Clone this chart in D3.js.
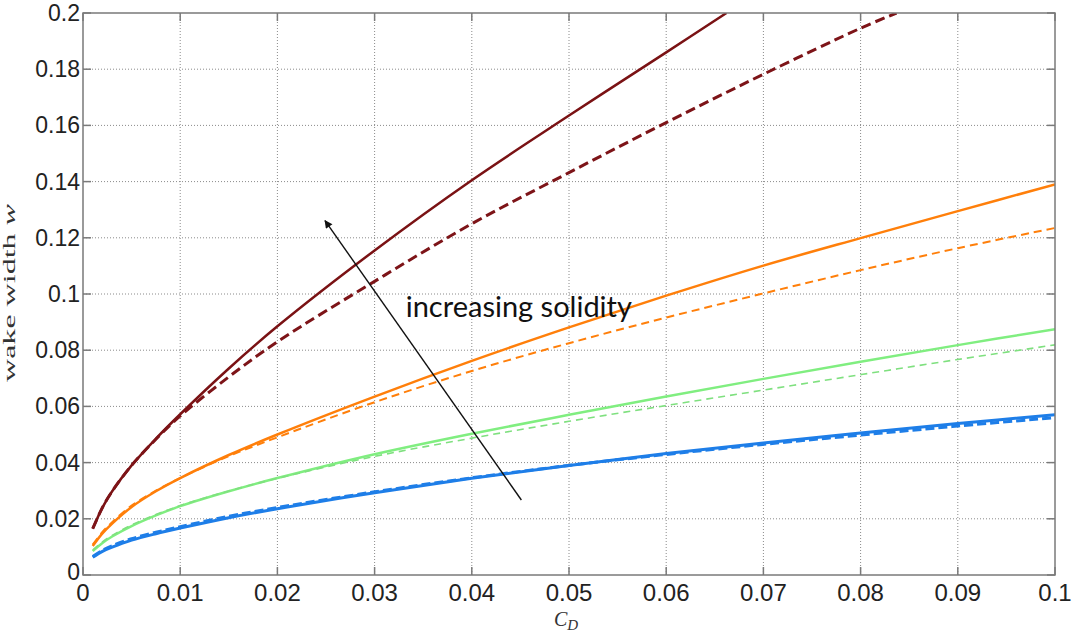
<!DOCTYPE html>
<html><head><meta charset="utf-8">
<script src="https://cdn.jsdelivr.net/npm/d3@7"></script>
<style>body{margin:0;background:#fff}svg{display:block}</style>
</head><body>
<svg id="c" width="1077" height="637"></svg>
<script>
// ---- data ----
const cdStd = [0.001,0.002,0.003,0.005,0.0075,0.01,0.015,0.02,0.03,0.04,0.05,0.06,0.07,0.08,0.09,0.1];
const cdRedSolid = [0.001,0.002,0.003,0.005,0.0075,0.01,0.015,0.02,0.03,0.04,0.05,0.06,0.0662];
const redSolid   = [0.0165,0.024,0.0298,0.039,0.0485,0.0572,0.0735,0.0885,0.1155,0.1405,0.1635,0.186,0.2];
const cdRedDash  = [0.001,0.002,0.003,0.005,0.0075,0.01,0.015,0.02,0.03,0.04,0.05,0.06,0.07,0.08,0.0837];
const redDash    = [0.0165,0.024,0.0298,0.039,0.0483,0.0566,0.0705,0.083,0.1045,0.1250,0.1432,0.1610,0.1782,0.1946,0.2];
const orangeSolid = [0.0103,0.0148,0.0183,0.0242,0.0298,0.0345,0.0427,0.050,0.0635,0.0762,0.0881,0.0994,0.1101,0.1199,0.1295,0.139];
const orangeDash  = [0.0108,0.0153,0.0188,0.0247,0.0300,0.0345,0.0423,0.0490,0.0615,0.0726,0.0825,0.0916,0.1002,0.1085,0.1163,0.1235];
const greenSolid  = [0.0085,0.0114,0.0137,0.0174,0.0212,0.0245,0.0298,0.0345,0.0430,0.0503,0.0570,0.0635,0.0698,0.0759,0.0818,0.0875];
const greenDash   = [0.0089,0.0118,0.0141,0.0178,0.0215,0.0247,0.0299,0.0344,0.0422,0.0487,0.0547,0.0603,0.0658,0.0713,0.0767,0.0819];
const blueSolid   = [0.0063,0.0084,0.0099,0.0124,0.0147,0.0167,0.0204,0.0236,0.0293,0.0344,0.0390,0.0432,0.0470,0.0505,0.0539,0.0570];
const blueDash    = [0.0066,0.0088,0.0104,0.0129,0.0152,0.0172,0.0209,0.0240,0.0296,0.0346,0.0390,0.0429,0.0465,0.0498,0.0530,0.0560];
const xTicks = [0,0.01,0.02,0.03,0.04,0.05,0.06,0.07,0.08,0.09,0.1];
const xTickLabels = ["0","0.01","0.02","0.03","0.04","0.05","0.06","0.07","0.08","0.09","0.1"];
const yTicks = [0,0.02,0.04,0.06,0.08,0.1,0.12,0.14,0.16,0.18,0.2];
const yTickLabels = ["0","0.02","0.04","0.06","0.08","0.1","0.12","0.14","0.16","0.18","0.2"];
const arrowFrom = [0.0451,0.0267];
const arrowTo = [0.0249,0.1261];
const annotation = "increasing solidity";
const annotationAt = [0.0332,0.0918];

// ---- layout ----
const L=83, T=13, W=972, H=562;
const svg=d3.select("#c");
const x=d3.scaleLinear().domain([0,0.1]).range([L,L+W]);
const y=d3.scaleLinear().domain([0,0.2]).range([T+H,T]);

// grid
const g=svg.append("g");
g.selectAll(".gx").data(xTicks.slice(1,-1)).enter().append("line")
 .attr("x1",d=>x(d)).attr("x2",d=>x(d)).attr("y1",T).attr("y2",T+H)
 .attr("stroke","#8a8a8a").attr("stroke-width",1).attr("stroke-dasharray","1,2");
g.selectAll(".gy").data(yTicks.slice(1,-1)).enter().append("line")
 .attr("y1",d=>y(d)).attr("y2",d=>y(d)).attr("x1",L).attr("x2",L+W)
 .attr("stroke","#8a8a8a").attr("stroke-width",1).attr("stroke-dasharray","1,2");

// curves
svg.append("clipPath").attr("id","clip").append("rect").attr("x",L).attr("y",T).attr("width",W).attr("height",H);
const line=d3.line().x(d=>x(d[0])).y(d=>y(d[1])).curve(d3.curveCatmullRom.alpha(0.5));
const series=[
 {cd:cdStd, v:blueSolid, c:"#1e7ee8", w:3, dash:null},
 {cd:cdStd, v:blueDash, c:"#1e7ee8", w:3, dash:"9,4"},
 {cd:cdStd, v:greenSolid, c:"#80ee80", w:2.5, dash:null},
 {cd:cdStd, v:greenDash, c:"#7fe07f", w:1.6, dash:"7,5"},
 {cd:cdStd, v:orangeSolid, c:"#ff7f0a", w:2.5, dash:null},
 {cd:cdStd, v:orangeDash, c:"#ff7f0a", w:2, dash:"8,5"},
 {cd:cdRedSolid, v:redSolid, c:"#7a1214", w:2.5, dash:null},
 {cd:cdRedDash, v:redDash, c:"#7d1418", w:3, dash:"10,5"}
];
const cg=svg.append("g").attr("clip-path","url(#clip)");
series.forEach(s=>{
 cg.append("path").datum(s.cd.map((c,i)=>[c,s.v[i]])).attr("d",line)
  .attr("fill","none").attr("stroke",s.c).attr("stroke-width",s.w)
  .attr("stroke-dasharray",s.dash);
});

// box and ticks
const ax=svg.append("g").attr("stroke","#7a7a7a").attr("stroke-width",1.5);
ax.append("rect").attr("x",L).attr("y",T).attr("width",W).attr("height",H).attr("fill","none");
const tl=8;
xTicks.forEach(t=>{
 ax.append("line").attr("x1",x(t)).attr("x2",x(t)).attr("y1",T+H).attr("y2",T+H-tl);
 ax.append("line").attr("x1",x(t)).attr("x2",x(t)).attr("y1",T).attr("y2",T+tl);
});
yTicks.forEach(t=>{
 ax.append("line").attr("y1",y(t)).attr("y2",y(t)).attr("x1",L).attr("x2",L+tl);
 ax.append("line").attr("y1",y(t)).attr("y2",y(t)).attr("x1",L+W).attr("x2",L+W-tl);
});

// tick labels
svg.selectAll(".xl").data(xTicks).enter().append("text")
 .attr("x",d=>x(d)).attr("y",T+H+26).attr("text-anchor","middle")
 .attr("font-family","Liberation Sans, Arial, sans-serif").attr("font-size",24).attr("fill","#222")
 .text((d,i)=>xTickLabels[i]);
svg.selectAll(".yl").data(yTicks).enter().append("text")
 .attr("x",L-3).attr("y",d=>y(d)+(d===0?5:8)).attr("text-anchor","end")
 .attr("font-family","Liberation Sans, Arial, sans-serif").attr("font-size",23).attr("fill","#222")
 .text((d,i)=>yTickLabels[i]);

// axis titles
const xt=svg.append("text").attr("x",566).attr("y",626).attr("text-anchor","middle")
 .attr("font-family","Liberation Serif, DejaVu Serif, serif").attr("font-size",20).attr("fill","#333").attr("font-style","italic");
xt.append("tspan").text("C");
xt.append("tspan").attr("font-size",15).attr("dy",4).text("D");
const yt=svg.append("text").attr("transform","translate(15,293) rotate(-90)").attr("text-anchor","middle")
 .attr("font-family","Liberation Serif, DejaVu Serif, serif").attr("font-size",17).attr("fill","#333")
 .attr("textLength",178).attr("lengthAdjust","spacingAndGlyphs");
yt.append("tspan").text("wake width ");
yt.append("tspan").attr("font-style","italic").text("w");

// annotation arrow
svg.append("defs").append("marker").attr("id","ah").attr("viewBox","0 0 10 10").attr("refX",9).attr("refY",5)
 .attr("markerWidth",10).attr("markerHeight",8).attr("markerUnits","userSpaceOnUse").attr("orient","auto")
 .append("path").attr("d","M0,0 L10,5 L0,10 z").attr("fill","#111");
svg.append("line").attr("x1",x(arrowFrom[0])).attr("y1",y(arrowFrom[1])).attr("x2",x(arrowTo[0])).attr("y2",y(arrowTo[1]))
 .attr("stroke","#111").attr("stroke-width",1.4).attr("marker-end","url(#ah)");
svg.append("text").attr("x",x(annotationAt[0])).attr("y",y(annotationAt[1])).attr("font-family","Lato, sans-serif")
 .attr("font-size",29).attr("fill","#111").text(annotation);
</script>
</body></html>
